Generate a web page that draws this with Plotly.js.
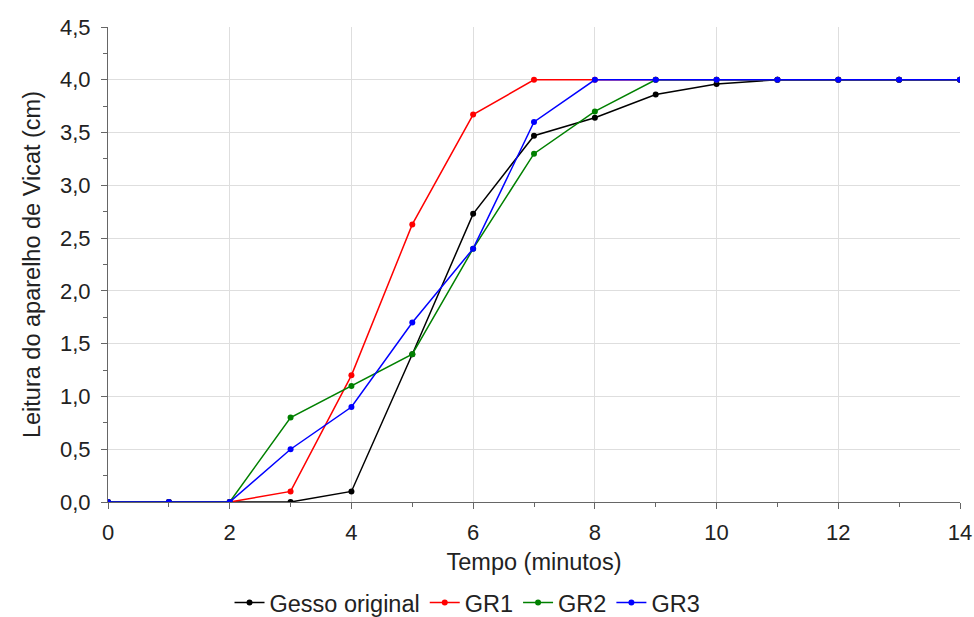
<!DOCTYPE html>
<html>
<head>
<meta charset="utf-8">
<script src="https://cdn.plot.ly/plotly-3.0.1.min.js"></script>
<style>html,body{margin:0;padding:0;background:#fff;}#chart{width:974px;height:617px;}</style>
</head>
<body>
<div id="chart"></div>
<script>
const tempo = [0,1,2,3,4,5,6,7,8,9,10,11,12,13,14];
const gessoOriginal = [0,0,0,0,0.1,1.4,2.73,3.47,3.64,3.86,3.96,4.0,4.0,4.0,4.0];
const gr1 = [0,0,0,0.1,1.2,2.63,3.67,4.0,4.0,4.0,4.0,4.0,4.0,4.0,4.0];
const gr2 = [0,0,0,0.8,1.1,1.4,2.4,3.3,3.7,4.0,4.0,4.0,4.0,4.0,4.0];
const gr3 = [0,0,0,0.5,0.9,1.7,2.4,3.6,4.0,4.0,4.0,4.0,4.0,4.0,4.0];
const seriesNames = ["Gesso original","GR1","GR2","GR3"];
const seriesColors = ["#000000","#ff0000","#008000","#0000ff"];
const seriesData = [gessoOriginal, gr1, gr2, gr3];

const traces = seriesData.map((ys, i) => ({
  x: tempo, y: ys, name: seriesNames[i], type: 'scatter', mode: 'lines+markers',
  line: {color: seriesColors[i], width: 1.5},
  marker: {color: seriesColors[i], size: 6}
}));

const fam = 'Liberation Sans, Arial, sans-serif';
const tickFont = {family: fam, size: 22, color: '#222'};
const titleFont = {family: fam, size: 23.5, color: '#222'};
const layout = {
  width: 974, height: 617,
  margin: {l: 108, r: 14, t: 27, b: 115, autoexpand: false},
  paper_bgcolor: '#fff', plot_bgcolor: '#fff',
  separators: ', ',
  showlegend: true,
  font: titleFont,
  legend: {orientation: 'h', xref: 'container', yref: 'container',
           x: 0.48, xanchor: 'center', y: 0.023, yanchor: 'middle',
           font: {family: fam, size: 23.5, color: '#222'},
           itemwidth: 30, tracegroupgap: 0},
  xaxis: {
    range: [0, 14], dtick: 2, tick0: 0,
    showgrid: true, gridcolor: '#dedede', gridwidth: 1,
    showline: true, linecolor: '#666', linewidth: 1,
    ticks: 'outside', ticklen: 6, tickcolor: '#666',
    ticklabelstandoff: 5,
    minor: {dtick: 1, ticks: 'outside', ticklen: 4, tickcolor: '#666', showgrid: false},
    zeroline: false, automargin: false,
    tickfont: tickFont,
    title: {text: 'Tempo (minutos)', font: titleFont, standoff: 9}
  },
  yaxis: {
    range: [0, 4.5], dtick: 0.5, tick0: 0, tickformat: '.1f',
    showgrid: true, gridcolor: '#dedede', gridwidth: 1,
    showline: true, linecolor: '#666', linewidth: 1,
    ticks: 'outside', ticklen: 6, tickcolor: '#666',
    ticklabelstandoff: 6,
    minor: {dtick: 0.25, ticks: 'outside', ticklen: 4, tickcolor: '#666', showgrid: false},
    zeroline: false, automargin: false,
    tickfont: tickFont,
    title: {text: 'Leitura do aparelho de Vicat (cm)', font: titleFont, standoff: 12}
  }
};
Plotly.newPlot('chart', traces, layout, {displayModeBar: false, staticPlot: true});
</script>
</body>
</html>
